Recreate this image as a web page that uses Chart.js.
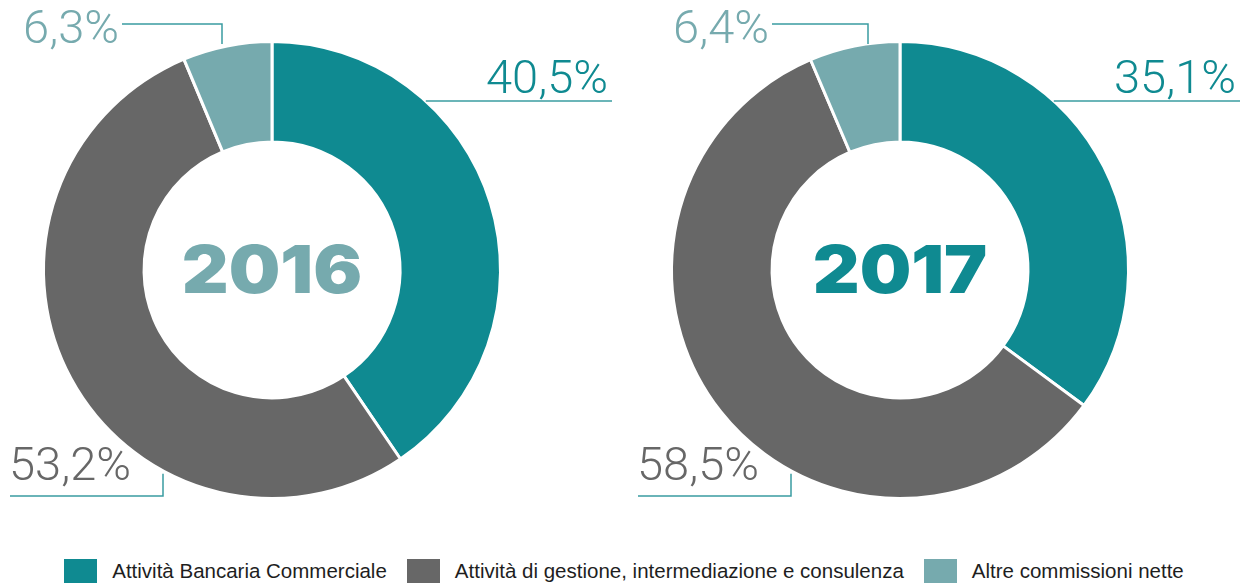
<!DOCTYPE html>
<html>
<head>
<meta charset="utf-8">
<script src="https://cdn.jsdelivr.net/npm/chart.js@4.4.1/dist/chart.umd.min.js"></script>
<style>
  body { margin: 0; width: 1248px; height: 587px; background: #fff; overflow: hidden; position: relative; font-family: "Liberation Sans", Arial, sans-serif; }
  .box { position: absolute; top: 0; width: 624px; height: 540px; }
  #legend { position: absolute; left: 0; width: 1248px; top: 559px; display: flex; justify-content: center; gap: 20px; }
  .item { display: flex; align-items: center; height: 24px; font-size: 20.5px; color: #1e1e1e; }
  .sq { width: 33px; height: 24px; margin-right: 15px; }
</style>
</head>
<body>
<div class="box" style="left:0"><canvas id="c2016" width="624" height="540"></canvas></div>
<div class="box" style="left:624px"><canvas id="c2017" width="624" height="540"></canvas></div>
<div id="legend"></div>
<script>
const categories = ["Attività Bancaria Commerciale", "Attività di gestione, intermediazione e consulenza", "Altre commissioni nette"];
const values2016 = [40.5, 53.2, 6.3];
const values2017 = [35.1, 58.5, 6.4];
const colors = ["#0f8a91", "#676767", "#76aaae"];

// labels with leader lines + year in the hole
const sliceLabels = {
  id: 'sliceLabels',
  afterDraw(chart, args, opts) {
    const ctx = chart.ctx;
    const arcs = chart.getDatasetMeta(0).data;
    const vals = chart.data.datasets[0].data;
    const cx = arcs[0].x, cy = arcs[0].y, R = arcs[0].outerRadius;
    const fmt = v => v.toFixed(1).replace('.', ',') + '%';
    ctx.save();
    ctx.strokeStyle = '#3a9ca1';
    ctx.lineWidth = 1.5;
    ctx.font = '300 47px Roboto';

    // first slice, top right
    let y = cy - 169;
    let x0 = cx + Math.sqrt(R * R - 169 * 169);
    ctx.beginPath();
    ctx.moveTo(x0, y); ctx.lineTo(cx + 340, y);
    ctx.stroke();
    ctx.fillStyle = colors[0];
    ctx.textAlign = 'right'; ctx.textBaseline = 'alphabetic';
    ctx.fillText(fmt(vals[0]), cx + 336, y - 8);

    // second slice, bottom left
    let x = cx - 109;
    let yTop = cy + Math.sqrt(R * R - 109 * 109) + 3;
    ctx.beginPath();
    ctx.moveTo(x, yTop); ctx.lineTo(x, cy + 226); ctx.lineTo(cx - 262, cy + 226);
    ctx.stroke();
    ctx.fillStyle = colors[1];
    ctx.textAlign = 'left';
    ctx.fillText(fmt(vals[1]), cx - 263, cy + 210);

    // small slice, top
    x = cx + opts.dx;
    ctx.beginPath();
    ctx.moveTo(x, cy - 226); ctx.lineTo(x, cy - 246); ctx.lineTo(x - opts.len, cy - 246);
    ctx.stroke();
    ctx.fillStyle = colors[2];
    ctx.textAlign = 'right';
    ctx.fillText(fmt(vals[2]), x - opts.len - 3, cy - 227);

    // year, stretched a bit to look like a wide black grotesque
    ctx.translate(cx, cy + 3);
    ctx.scale(1.1, 1);
    ctx.font = '900 66px Inter';
    ctx.fillStyle = opts.yearColor;
    ctx.textAlign = 'center';
    ctx.textBaseline = 'middle';
    ctx.fillText(opts.year, 0, 0);
    ctx.restore();
  }
};

function makeDonut(id, values, pad, labelOpts) {
  new Chart(document.getElementById(id), {
    type: 'doughnut',
    data: {
      labels: categories,
      datasets: [{
        data: values,
        backgroundColor: colors,
        borderColor: '#ffffff',
        borderWidth: 3
      }]
    },
    options: {
      responsive: false,
      animation: false,
      events: [],
      cutout: '56%',
      layout: { padding: pad },
      plugins: {
        legend: { display: false },
        tooltip: { enabled: false },
        sliceLabels: labelOpts
      }
    },
    plugins: [sliceLabels]
  });
}

makeDonut('c2016', values2016, { left: 42, right: 122, top: 40, bottom: 40 },
  { year: '2016', yearColor: colors[2], dx: -50, len: 100 });
makeDonut('c2017', values2017, { left: 46, right: 118, top: 40, bottom: 40 },
  { year: '2017', yearColor: colors[0], dx: -32, len: 96 });

// legend
const legend = document.getElementById('legend');
categories.forEach((c, i) => {
  const it = document.createElement('div');
  it.className = 'item';
  it.innerHTML = '<span class="sq" style="background:' + colors[i] + '"></span><span>' + c + '</span>';
  legend.appendChild(it);
});
</script>
</body>
</html>
